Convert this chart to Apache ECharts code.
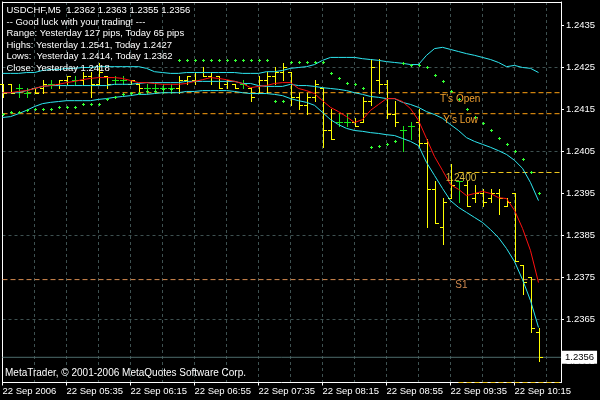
<!DOCTYPE html>
<html>
<head>
<meta charset="utf-8">
<title>USDCHF,M5</title>
<script src="https://cdn.jsdelivr.net/npm/echarts/dist/echarts.min.js"></script>
<style>
  html, body { margin: 0; padding: 0; background: #000; }
  #chart { width: 600px; height: 400px; }
</style>
</head>
<body>
<div id="chart"></div>
<script>
// ---- Bar axis labels (one every 8 bars) ----
const timeLabels = ['22 Sep 2006', '22 Sep 05:35', '22 Sep 06:15', '22 Sep 06:55', '22 Sep 07:35',
  '22 Sep 08:15', '22 Sep 08:55', '22 Sep 09:35', '22 Sep 10:15'];

// ---- Price scale labels ----
const priceTicks = [1.2355, 1.2365, 1.2375, 1.2385, 1.2395, 1.2405, 1.2415, 1.2425, 1.2435];

// ---- M5 bars: open / high / low / close ----
const openP = [1.2421,1.2421,1.2420,1.2419,1.2420,1.2420,1.2421,1.2421,1.2422,1.2422,1.2422,1.2423,1.2421,1.2423,1.2422,1.2422,1.2421,1.2421,1.2420,1.2420,1.2420,1.2420,1.2420,1.2422,1.2422,1.2424,1.2423,1.2423,1.2421,1.2421,1.2421,1.2420,1.2419,1.2422,1.2423,1.2424,1.2424,1.2418,1.2416,1.2418,1.2420,1.2410,1.2412,1.2412,1.2412,1.2412,1.2417,1.2422,1.2421,1.2414,1.2410,1.2411,1.2412,1.2407,1.2396,1.2387,1.2394,1.2398,1.2397,1.2394,1.2395,1.2394,1.2395,1.2392,1.2395,1.2378,1.2375,1.2362];
const highP = [1.2421,1.2421,1.2421,1.2420,1.2420,1.2422,1.2422,1.2422,1.2423,1.2423,1.2424,1.2424,1.2426,1.2423,1.2423,1.2423,1.2422,1.2421,1.2421,1.2421,1.2421,1.2421,1.2423,1.2423,1.2424,1.2425,1.2424,1.2423,1.2422,1.2421,1.2422,1.2420,1.2423,1.2424,1.2425,1.2426,1.2424,1.2419,1.2419,1.2422,1.2420,1.2415,1.2414,1.2414,1.2413,1.2418,1.2427,1.2427,1.2422,1.2417,1.2411,1.2412,1.2415,1.2408,1.2398,1.2394,1.2402,1.2398,1.2398,1.2397,1.2396,1.2396,1.2396,1.2394,1.2395,1.2378,1.2375,1.2363];
const lowP = [1.2418,1.2419,1.2418,1.2418,1.2419,1.2419,1.2420,1.2420,1.2421,1.2421,1.2421,1.2418,1.2421,1.2420,1.2421,1.2421,1.2421,1.2419,1.2419,1.2419,1.2419,1.2419,1.2419,1.2421,1.2421,1.2423,1.2421,1.2420,1.2420,1.2420,1.2420,1.2417,1.2419,1.2419,1.2421,1.2422,1.2416,1.2415,1.2414,1.2417,1.2406,1.2408,1.2411,1.2411,1.2411,1.2412,1.2416,1.2419,1.2413,1.2411,1.2405,1.2408,1.2406,1.2387,1.2388,1.2383,1.2394,1.2393,1.2392,1.2393,1.2392,1.2393,1.2390,1.2392,1.2379,1.2371,1.2362,1.2355];
const closeP = [1.2419,1.2419,1.2420,1.2419,1.2419,1.2421,1.2421,1.2422,1.2423,1.2422,1.2423,1.2421,1.2424,1.2421,1.2422,1.2422,1.2422,1.2420,1.2420,1.2420,1.2420,1.2420,1.2422,1.2423,1.2424,1.2423,1.2424,1.2420,1.2422,1.2420,1.2421,1.2418,1.2422,1.2423,1.2424,1.2425,1.2418,1.2416,1.2418,1.2421,1.2410,1.2408,1.2412,1.2412,1.2411,1.2417,1.2425,1.2421,1.2414,1.2412,1.2410,1.2411,1.2407,1.2396,1.2388,1.2393,1.2397,1.2398,1.2392,1.2395,1.2393,1.2395,1.2394,1.2393,1.2379,1.2374,1.2363,1.2356];

// ---- Indicator buffers ----
const bandUpper = [1.24236,1.24236,1.24236,1.24238,1.24238,1.24243,1.24245,1.24245,1.24248,1.24248,1.24250,1.24250,1.24252,1.24252,1.24252,1.24252,1.24252,1.24252,1.24248,1.24240,1.24238,1.24236,1.24236,1.24238,1.24238,1.24238,1.24238,1.24238,1.24238,1.24238,1.24236,1.24236,1.24236,1.24240,1.24240,1.24243,1.24248,1.24250,1.24252,1.24257,1.24267,1.24274,1.24274,1.24274,1.24274,1.24271,1.24269,1.24267,1.24264,1.24262,1.24260,1.24257,1.24257,1.24279,1.24295,1.24298,1.24293,1.24288,1.24283,1.24279,1.24274,1.24269,1.24262,1.24252,1.24255,1.24250,1.24248,1.24238];
const bandMiddle = [1.24190,1.24190,1.24190,1.24195,1.24200,1.24205,1.24207,1.24207,1.24207,1.24207,1.24207,1.24207,1.24207,1.24207,1.24210,1.24210,1.24210,1.24212,1.24214,1.24214,1.24214,1.24214,1.24214,1.24217,1.24217,1.24217,1.24217,1.24217,1.24217,1.24217,1.24212,1.24212,1.24207,1.24205,1.24205,1.24205,1.24210,1.24207,1.24207,1.24205,1.24202,1.24200,1.24198,1.24195,1.24190,1.24186,1.24181,1.24179,1.24176,1.24176,1.24167,1.24162,1.24155,1.24145,1.24138,1.24129,1.24114,1.24100,1.24083,1.24074,1.24067,1.24060,1.24052,1.24043,1.24029,1.24010,1.23976,1.23933];
const bandLower = [1.24131,1.24133,1.24140,1.24148,1.24157,1.24164,1.24167,1.24169,1.24171,1.24171,1.24171,1.24171,1.24174,1.24176,1.24179,1.24181,1.24183,1.24186,1.24186,1.24188,1.24190,1.24190,1.24190,1.24193,1.24193,1.24195,1.24195,1.24195,1.24195,1.24193,1.24190,1.24188,1.24188,1.24188,1.24186,1.24183,1.24176,1.24171,1.24167,1.24160,1.24143,1.24126,1.24114,1.24105,1.24100,1.24098,1.24095,1.24093,1.24090,1.24088,1.24081,1.24074,1.24064,1.24024,1.23993,1.23962,1.23933,1.23917,1.23905,1.23893,1.23881,1.23864,1.23845,1.23819,1.23788,1.23745,1.23695,1.23631];
const maLine = [1.24190,1.24190,1.24193,1.24195,1.24200,1.24205,1.24207,1.24210,1.24214,1.24217,1.24221,1.24224,1.24226,1.24226,1.24226,1.24224,1.24219,1.24214,1.24214,1.24212,1.24210,1.24210,1.24210,1.24212,1.24217,1.24221,1.24226,1.24224,1.24221,1.24217,1.24212,1.24202,1.24205,1.24207,1.24212,1.24214,1.24214,1.24200,1.24195,1.24188,1.24171,1.24155,1.24145,1.24133,1.24119,1.24126,1.24148,1.24162,1.24176,1.24176,1.24169,1.24152,1.24124,1.24081,1.24038,1.24005,1.23971,1.23960,1.23945,1.23950,1.23955,1.23950,1.23940,1.23938,1.23910,1.23867,1.23814,1.23738];
const sarDots = [1.24140,1.24143,1.24145,1.24148,1.24150,1.24150,1.24152,1.24155,1.24157,1.24157,1.24162,1.24164,1.24164,1.24174,1.24179,1.24186,1.24190,1.24190,1.24195,1.24195,1.24198,1.24198,
  1.24269,1.24269,1.24269,1.24269,1.24269,1.24269,1.24269,1.24269,1.24269,1.24269,1.24269,1.24269,
  1.24171,1.24171,
  1.24262,1.24262,1.24262,1.24262,1.24262,1.24238,1.24226,1.24214,1.24210,1.24200,
  1.24060,1.24062,1.24069,1.24074,
  1.24260,1.24257,1.24255,1.24250,1.24233,1.24217,1.24193,1.24174,1.24152,1.24131,1.24117,1.24100,1.24083,1.24067,1.24050,1.24031,1.24000,1.23952];

// ---- Horizontal levels ----
const todayOpen = 1.2419;
const yesterdayLow = 1.2414;
const supportS1 = 1.23745;
const roundLevel = 1.2400;
const lowerLevel = 1.2350;
const levelStartBar = 57;

// ---- Comment block ----
const last = closeP.length - 1;
const infoLines = [
  'USDCHF,M5  ' + [openP[last], highP[last], lowP[last], closeP[last]].map(v => v.toFixed(4)).join(' '),
  '-- Good luck with your trading! ---',
  'Range: Yesterday 127 pips, Today 65 pips',
  'Highs: Yesterday 1.2541, Today 1.2427',
  'Lows:  Yesterday 1.2414, Today 1.2362',
  'Close: Yesterday 1.2418'
];
const copyright = 'MetaTrader, \u00A9 2001-2006 MetaQuotes Software Corp.';

// ---- Styling ----
const FONT = '"Liberation Sans", Arial, sans-serif';
const GRID = '#3e5151';
const BAR = '#ffff00';
const DOJI = '#19e619';
const SAR = '#33ff33';
const CYAN = '#2ee6f0';
const RED = '#ff1010';
const ORANGE = '#ffa010';
const GOLD = '#f0c81e';
const S1COL = '#d48a50';
const BID = '#4d6c6c';

const X_MAX = 69.8125;
const Y_MIN = 1.2350;
const Y_MAX = 1.24405952;

const chart = echarts.init(document.getElementById('chart'), null, { renderer: 'canvas' });

const bars = openP.map((o, i) => [i, o, highP[i], lowP[i], closeP[i]]);
const seriesOf = arr => arr.map((v, i) => [i, v]);

function pixelRect(x, y, w, h, color) {
  return {
    type: 'rect', shape: { x: x, y: y, width: w, height: h },
    style: { fill: color, stroke: null, lineWidth: 0 }
  };
}

function renderBar(params, api) {
  const i = api.value(0);
  const o = api.value(1), h = api.value(2), l = api.value(3), c = api.value(4);
  const top = api.coord([i, h]);
  const x = Math.round(top[0]);
  const yh = Math.round(top[1]);
  const yl = Math.round(api.coord([i, l])[1]);
  const yo = Math.round(api.coord([i, o])[1]);
  const yc = Math.round(api.coord([i, c])[1]);
  const color = o === c ? DOJI : BAR;
  return {
    type: 'group',
    children: [
      pixelRect(x, yh, 1, yl - yh + 1, color),
      pixelRect(x - 3, yo, 3, 1, color),
      pixelRect(x + 1, yc, 3, 1, color)
    ]
  };
}

function renderSar(params, api) {
  const p = api.coord([api.value(0), api.value(1)]);
  const x = Math.round(p[0]), y = Math.round(p[1]);
  return {
    type: 'group',
    children: [
      pixelRect(x - 1, y, 3, 1, SAR),
      pixelRect(x, y - 1, 1, 3, SAR)
    ]
  };
}

function indicator(name, arr, color) {
  return {
    name: name, type: 'line', data: seriesOf(arr), xAxisIndex: 0, yAxisIndex: 0,
    showSymbol: false, symbol: 'none', z: 4, silent: true,
    lineStyle: { color: color, width: 1 }
  };
}

// horizontal level drawn from a given bar to the right edge of the price area
function level(name, price, fromBar, color, dash, z) {
  return {
    name: name, type: 'line', xAxisIndex: 0, yAxisIndex: 0, z: z, silent: true,
    showSymbol: false, symbol: 'none',
    data: [[fromBar, price], [X_MAX, price]],
    lineStyle: { color: color, width: 1, type: dash }
  };
}

const levelLabel = (txt, bar, price, color, dy) => ({
  coord: [bar, price],
  label: { show: true, formatter: txt, color: color, offset: [0, dy] }
});

const bidLine = level('bid', closeP[last], 0, BID, 'solid', 2);
bidLine.markPoint = {
  silent: true, animation: false, symbol: 'circle', symbolSize: 0,
  data: [{
    coord: [X_MAX, closeP[last]],
    label: {
      show: true, position: 'right', distance: 1, formatter: closeP[last].toFixed(4),
      color: '#000000', backgroundColor: '#ffffff', padding: [2, 3, 1, 3],
      fontFamily: FONT, fontSize: 9.5
    }
  }]
};

const openLine = level("T's Open", todayOpen, 0, ORANGE, [5, 3], 2);
openLine.markPoint = {
  silent: true, animation: false, symbol: 'circle', symbolSize: 0,
  label: { show: true, position: 'right', distance: 0, fontFamily: FONT, fontSize: 10 },
  data: [
    levelLabel("T's Open", 54.7, todayOpen, '#f0a030', 7),
    levelLabel("Y's Low", 55.1, yesterdayLow, '#f0a030', 7),
    levelLabel(roundLevel.toFixed(4), 55.4, roundLevel, '#d8b840', 6),
    levelLabel('S1', 56.6, supportS1, '#d08a50', 6)
  ]
};

const option = {
  backgroundColor: '#000000',
  animation: false,
  grid: { left: 2.5, right: 39, top: 2, bottom: 17.5, containLabel: false, outerBoundsMode: 'none' },
  xAxis: [
    {
      type: 'value', min: 0, max: X_MAX, interval: 8, position: 'bottom',
      axisLine: { show: true, onZero: false, lineStyle: { color: '#ffffff', width: 1 } },
      axisTick: { show: true, length: 3, lineStyle: { color: '#ffffff' } },
      axisLabel: {
        show: true, color: '#ffffff', fontFamily: FONT, fontSize: 9.5, align: 'left', margin: 4,
        showMaxLabel: false,
        formatter: v => (v % 8 === 0 && timeLabels[v / 8]) || ''
      },
      splitLine: { show: false }
    },
    {
      type: 'value', min: 0, max: X_MAX, interval: 4, position: 'top',
      axisLine: { show: true, onZero: false, lineStyle: { color: '#ffffff', width: 1 } },
      axisTick: { show: false }, axisLabel: { show: false },
      splitLine: { show: true, lineStyle: { color: GRID, type: [3, 3], width: 1 } }
    }
  ],
  yAxis: [
    {
      type: 'value', position: 'right', min: Y_MIN, max: Y_MAX, interval: 0.0005, scale: true,
      axisLine: { show: true, onZero: false, lineStyle: { color: '#ffffff', width: 1 } },
      axisTick: { show: true, length: 3, customValues: priceTicks, lineStyle: { color: '#ffffff' } },
      axisLabel: {
        show: true, color: '#ffffff', fontFamily: FONT, fontSize: 9.5, margin: 5,
        showMinLabel: false, showMaxLabel: false,
        formatter: v => (Math.round(v * 10000) % 10 === 5 ? v.toFixed(4) : '')
      },
      splitLine: { show: true, lineStyle: { color: ['rgba(0,0,0,0)', GRID], type: [3, 3], width: 1 } }
    },
    {
      type: 'value', position: 'left', min: Y_MIN, max: Y_MAX, interval: 0.0005, scale: true,
      axisLine: { show: true, onZero: false, lineStyle: { color: '#ffffff', width: 1 } },
      axisTick: { show: false }, axisLabel: { show: false }, splitLine: { show: false }
    }
  ],
  series: [
    bidLine,
    openLine,
    level("Y's Low", yesterdayLow, 0, ORANGE, [5, 3], 2),
    level('S1', supportS1, 0, S1COL, [5, 3], 2),
    level('1.2400', roundLevel, levelStartBar, GOLD, [5, 3], 2),
    level('1.2350', lowerLevel, levelStartBar, GOLD, [5, 3], 2),
    {
      name: 'bars', type: 'custom', data: bars, xAxisIndex: 0, yAxisIndex: 0, z: 3, silent: true,
      encode: { x: 0, y: [1, 2, 3, 4] }, renderItem: renderBar
    },
    indicator('upper', bandUpper, CYAN),
    indicator('middle', bandMiddle, CYAN),
    indicator('lower', bandLower, CYAN),
    indicator('ma', maLine, RED),
    {
      name: 'sar', type: 'custom', data: seriesOf(sarDots), xAxisIndex: 0, yAxisIndex: 0, z: 5, silent: true,
      encode: { x: 0, y: 1 }, renderItem: renderSar
    }
  ],
  graphic: infoLines.map((t, k) => ({
    type: 'text', left: 6.5, top: 5.5 + k * 11.5, z: 100, silent: true,
    style: { text: t, fill: '#ffffff', fontFamily: FONT, fontSize: 9.5 }
  })).concat([{
    type: 'text', left: 5, top: 368.5, z: 100, silent: true,
    style: { text: copyright, fill: '#ffffff', fontFamily: FONT, fontSize: 10 }
  }])
};

chart.setOption(option);
</script>
</body>
</html>
